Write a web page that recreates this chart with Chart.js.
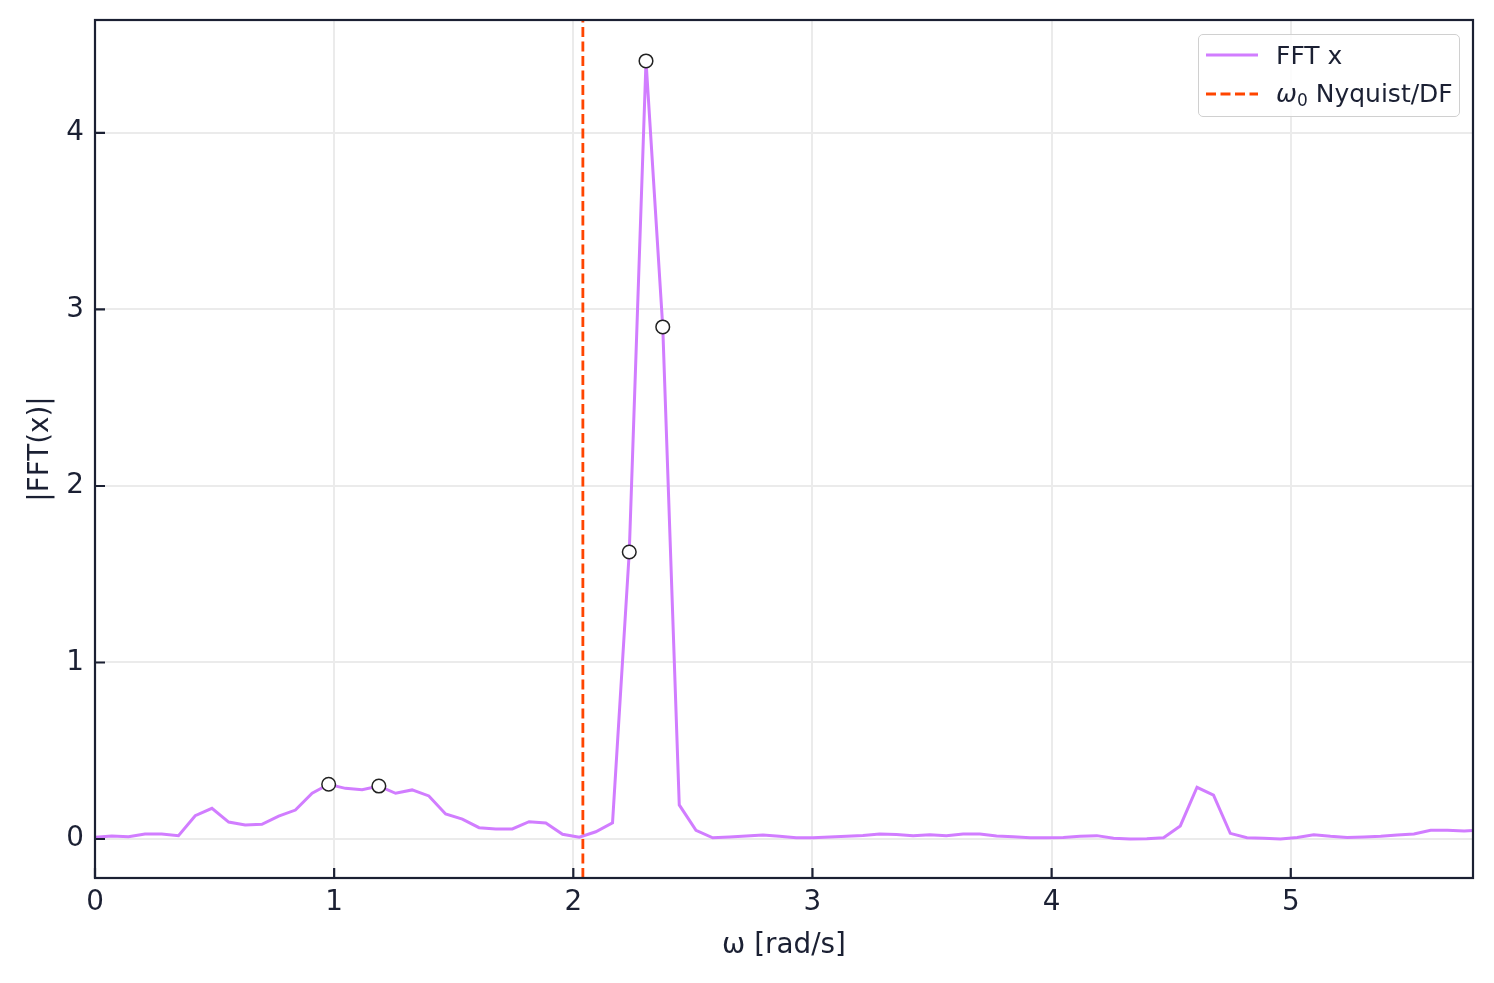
<!DOCTYPE html>
<html>
<head>
<meta charset="utf-8">
<script src="https://cdn.jsdelivr.net/npm/chart.js@4/dist/chart.umd.min.js"></script>
<style>
  html, body { margin: 0; padding: 0; background: #fff; }
  #wrap { position: relative; width: 1494px; height: 983px; }
  #legend {
    position: absolute; left: 1198px; top: 34px; width: 260px; height: 81px;
    border: 1.5px solid #d0d0d0; border-radius: 5px; background: rgba(255,255,255,0.85);
    font-family: "DejaVu Sans", sans-serif; font-size: 25px; color: #1b2033;
  }
  .row { position: absolute; left: 0; height: 30px; display: flex; align-items: center; }
  .row svg { margin-left: 7px; margin-right: 18px; }
  .row sub { font-size: 17px; vertical-align: -4px; }
</style>
</head>
<body>
<div id="wrap">
  <canvas id="chart" width="1494" height="983"></canvas>
  <div id="legend">
    <div class="row" style="top:5px">
      <svg width="52" height="10"><line x1="0" y1="5" x2="52" y2="5" stroke="#d17dff" stroke-width="3"/></svg>
      <span>FFT x</span>
    </div>
    <div class="row" style="top:44px">
      <svg width="52" height="10"><line x1="0" y1="5" x2="52" y2="5" stroke="#ff4500" stroke-width="2.8" stroke-dasharray="10 4.5"/></svg>
      <span><i>ω</i><sub>0</sub> Nyquist/DF</span>
    </div>
  </div>
</div>
<script>
// frequency bins [rad/s]
const omega = [
  0.000, 0.070, 0.140, 0.209, 0.279, 0.349, 0.419, 0.489, 0.559, 0.628,
  0.698, 0.768, 0.838, 0.908, 0.977, 1.047, 1.117, 1.187, 1.257, 1.326,
  1.396, 1.466, 1.536, 1.606, 1.676, 1.745, 1.815, 1.885, 1.955, 2.025,
  2.094, 2.164, 2.234, 2.304, 2.374, 2.443, 2.513, 2.583, 2.653, 2.723,
  2.793, 2.862, 2.932, 3.002, 3.072, 3.142, 3.211, 3.281, 3.351, 3.421,
  3.491, 3.560, 3.630, 3.700, 3.770, 3.840, 3.910, 3.979, 4.049, 4.119,
  4.189, 4.259, 4.328, 4.398, 4.468, 4.538, 4.608, 4.677, 4.747, 4.817,
  4.887, 4.957, 5.027, 5.096, 5.166, 5.236, 5.306, 5.376, 5.445, 5.515,
  5.585, 5.655, 5.725, 5.794
];
// |FFT(x)| magnitudes
const fftMag = [
  0.010, 0.017, 0.013, 0.028, 0.028, 0.019, 0.132, 0.174, 0.096, 0.079,
  0.083, 0.130, 0.164, 0.259, 0.310, 0.287, 0.279, 0.300, 0.259, 0.278,
  0.244, 0.142, 0.113, 0.064, 0.057, 0.057, 0.098, 0.091, 0.027, 0.010,
  0.041, 0.091, 1.626, 4.408, 2.901, 0.193, 0.049, 0.007, 0.011, 0.017,
  0.023, 0.015, 0.007, 0.007, 0.011, 0.015, 0.020, 0.028, 0.026, 0.019,
  0.024, 0.019, 0.028, 0.028, 0.017, 0.013, 0.007, 0.007, 0.009, 0.015,
  0.019, 0.004, 0.000, 0.002, 0.007, 0.074, 0.293, 0.249, 0.032, 0.007,
  0.004, 0.000, 0.009, 0.024, 0.015, 0.009, 0.011, 0.015, 0.023, 0.028,
  0.049, 0.049, 0.045, 0.052
];
// bins marked with circles
const markedBins = [14, 17, 32, 33, 34];
const omega0 = 2.04;

const xTicks = [0, 1, 2, 3, 4, 5];
const yTicks = [0, 1, 2, 3, 4];
const xRange = [0, 5.762];
const yRange = [-0.221, 4.64];

const ink = '#1b2033';
const font = { family: '"DejaVu Sans", sans-serif', size: 27.8 };

// frame with inward ticks
const framePlugin = {
  id: 'frame',
  afterDraw(chart) {
    const { ctx, chartArea: a, scales } = chart;
    ctx.save();
    ctx.strokeStyle = ink;
    ctx.lineWidth = 2.2;
    ctx.strokeRect(a.left, a.top, a.right - a.left, a.bottom - a.top);
    ctx.beginPath();
    xTicks.forEach(v => {
      const px = scales.x.getPixelForValue(v);
      ctx.moveTo(px, a.bottom);
      ctx.lineTo(px, a.bottom - 10);
    });
    yTicks.forEach(v => {
      const py = scales.y.getPixelForValue(v);
      ctx.moveTo(a.left, py);
      ctx.lineTo(a.left + 10, py);
    });
    ctx.stroke();
    ctx.restore();
  }
};

const lineData = omega.map((w, i) => ({ x: w, y: fftMag[i] }));
const markData = markedBins.map(k => ({ x: omega[k], y: fftMag[k] }));

new Chart(document.getElementById('chart').getContext('2d'), {
  type: 'line',
  data: {
    datasets: [
      {
        label: 'marks',
        data: markData,
        showLine: false,
        pointRadius: 6.8,
        pointBackgroundColor: '#ffffff',
        pointBorderColor: '#222222',
        pointBorderWidth: 1.5
      },
      {
        label: 'ω0 Nyquist/DF',
        data: [{ x: omega0, y: yRange[0] }, { x: omega0, y: yRange[1] }],
        borderColor: '#ff4500',
        borderWidth: 2.8,
        borderDash: [10, 4.5],
        pointRadius: 0
      },
      {
        label: 'FFT x',
        data: lineData,
        borderColor: '#d17dff',
        borderWidth: 3,
        pointRadius: 0,
        tension: 0
      }
    ]
  },
  options: {
    responsive: false,
    animation: false,
    events: [],
    layout: { padding: { left: 0, top: 20, right: 21, bottom: 0 } },
    plugins: { legend: { display: false }, tooltip: { enabled: false } },
    scales: {
      x: {
        type: 'linear',
        min: xRange[0],
        max: xRange[1],
        afterBuildTicks: s => { s.ticks = xTicks.map(v => ({ value: v })); },
        afterFit: s => { s.height = 105; s.paddingLeft = 0; s.paddingRight = 0; },
        grid: { color: '#ebebeb', lineWidth: 2, drawTicks: false },
        border: { display: false },
        ticks: { padding: 8, color: ink, font: font, maxRotation: 0 },
        title: { display: true, text: 'ω [rad/s]', color: ink, font: font, padding: { top: 0, bottom: 21 } }
      },
      y: {
        type: 'linear',
        min: yRange[0],
        max: yRange[1],
        afterBuildTicks: s => { s.ticks = yTicks.map(v => ({ value: v })); },
        afterFit: s => { s.width = 95; s.paddingTop = 0; s.paddingBottom = 0; },
        grid: { color: '#ebebeb', lineWidth: 2, drawTicks: false },
        border: { display: false },
        ticks: { padding: 11, color: ink, font: font },
        title: { display: true, text: '|FFT(x)|', color: ink, font: font, padding: { top: 24, bottom: 0 } }
      }
    }
  },
  plugins: [framePlugin]
});
</script>
</body>
</html>
